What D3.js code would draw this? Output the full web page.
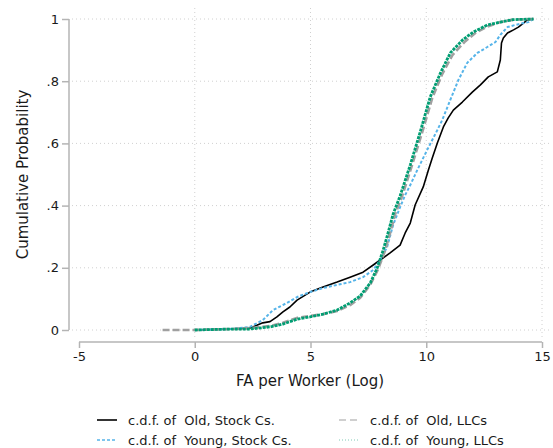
<!DOCTYPE html>
<html><head><meta charset="utf-8">
<script src="https://cdn.jsdelivr.net/npm/d3@7"></script>
<style>body{margin:0;background:#fff;} text{font-family:"DejaVu Sans",Verdana,sans-serif;fill:#1a1a1a;}</style>
</head><body>
<svg id="c" width="553" height="448"></svg>
<script>
const xTicks = [-5, 0, 5, 10, 15];
const xTickLabels = ["-5", "0", "5", "10", "15"];
const yTicks = [0, 0.2, 0.4, 0.6, 0.8, 1];
const yTickLabels = ["0", ".2", ".4", ".6", ".8", "1"];
const seriesNames = ["c.d.f. of  Old, Stock Cs.", "c.d.f. of  Young, Stock Cs.", "c.d.f. of  Old, LLCs", "c.d.f. of  Young, LLCs"];

const oldStock = [[0,0],[1.52,0.003],[2.38,0.006],[2.94,0.023],[3.25,0.027],[3.55,0.042],[3.81,0.058],[4.11,0.074],[4.42,0.096],[4.98,0.122],[5.54,0.138],[6.15,0.154],[6.71,0.170],[7.27,0.186],[7.71,0.209],[8.01,0.225],[8.44,0.248],[8.87,0.273],[9.09,0.312],[9.31,0.344],[9.52,0.402],[9.87,0.460],[10.09,0.514],[10.26,0.553],[10.48,0.601],[10.74,0.653],[10.95,0.682],[11.17,0.707],[11.56,0.733],[11.99,0.765],[12.34,0.788],[12.68,0.814],[13.07,0.830],[13.20,0.868],[13.25,0.923],[13.33,0.939],[13.51,0.955],[13.77,0.965],[13.98,0.974],[14.20,0.987],[14.37,0.997],[14.63,1.0]];
const youngStock = [[0,0],[1.52,0.003],[2.38,0.010],[2.94,0.032],[3.38,0.064],[3.98,0.087],[4.42,0.106],[4.98,0.122],[5.54,0.135],[6.15,0.145],[6.71,0.154],[7.27,0.170],[7.71,0.193],[8.01,0.225],[8.31,0.267],[8.57,0.338],[8.87,0.395],[9.09,0.434],[9.31,0.466],[9.61,0.514],[10.04,0.579],[10.48,0.643],[10.69,0.675],[11.04,0.740],[11.39,0.804],[11.77,0.859],[12.21,0.891],[12.64,0.910],[12.99,0.926],[13.20,0.949],[13.51,0.974],[13.85,0.981],[14.20,0.987],[14.42,0.990],[14.63,1.0]];
const oldLLC = [[-1.39,0],[0,0],[1.52,0.003],[2.38,0.006],[3.25,0.013],[3.81,0.023],[4.42,0.039],[4.98,0.045],[5.54,0.051],[6.15,0.061],[6.71,0.080],[7.14,0.103],[7.58,0.145],[7.92,0.196],[8.23,0.257],[8.44,0.312],[8.66,0.373],[8.96,0.431],[9.39,0.531],[9.83,0.637],[10.26,0.746],[10.69,0.823],[11.13,0.884],[11.65,0.926],[12.12,0.955],[12.68,0.977],[13.20,0.990],[13.77,0.998],[14.63,1.0]];
const youngLLC = [[0,0],[1.52,0.003],[2.38,0.003],[3.25,0.010],[3.81,0.019],[4.42,0.035],[4.98,0.042],[5.54,0.051],[6.15,0.064],[6.71,0.087],[7.14,0.109],[7.58,0.151],[7.88,0.199],[8.14,0.257],[8.35,0.312],[8.57,0.373],[8.87,0.431],[9.31,0.531],[9.74,0.637],[10.17,0.749],[10.61,0.826],[11.04,0.891],[11.56,0.932],[12.03,0.958],[12.64,0.981],[13.20,0.990],[13.77,0.998],[14.63,1.0]];

const svg = d3.select("#c");
const x = d3.scaleLinear().domain([-5, 15]).range([79, 542]);
const y = d3.scaleLinear().domain([0, 1]).range([330, 19]);

// gridlines
const grid = svg.append("g").attr("stroke", "#d0d0d0").attr("stroke-width", 1).attr("stroke-dasharray", "1,3");
grid.selectAll("line.h").data(yTicks).join("line")
  .attr("x1", 72).attr("x2", 552).attr("y1", d => y(d)).attr("y2", d => y(d));
grid.selectAll("line.v").data(xTicks.filter(d => d > -5)).join("line")
  .attr("y1", 8).attr("y2", 338).attr("x1", d => x(d)).attr("x2", d => x(d));

// axes
const yAxis = d3.axisLeft(y).tickValues(yTicks).tickSize(7).tickPadding(3)
  .tickFormat((d, i) => yTickLabels[i]);
const gy = svg.append("g").attr("transform", "translate(69,0)").call(yAxis);
const xAxis = d3.axisBottom(x).tickValues(xTicks).tickSize(6).tickPadding(4)
  .tickFormat((d, i) => xTickLabels[i]);
const gx = svg.append("g").attr("transform", "translate(0,342)").call(xAxis);
[gx, gy].forEach(g => {
  g.select(".domain").attr("stroke", "#b4b4b4").attr("stroke-width", 1.5);
  g.selectAll(".tick line").attr("stroke", "#b4b4b4").attr("stroke-width", 1.5);
  g.selectAll(".tick text").attr("font-size", 13).attr("fill", "#1a1a1a")
    .style("font-family", '"DejaVu Sans",Verdana,sans-serif');
});
gy.select(".domain").attr("d", "M0," + y(0) + "V" + y(1));
gx.select(".domain").attr("d", "M" + x(-5) + ",0H" + x(15));

svg.append("text").attr("x", 310).attr("y", 386).attr("text-anchor", "middle")
  .attr("font-size", 15).text("FA per Worker (Log)");
svg.append("text").attr("transform", "translate(28,174.5) rotate(-90)").attr("text-anchor", "middle")
  .attr("font-size", 15).text("Cumulative Probability");

const line = d3.line().x(d => x(d[0])).y(d => y(d[1]));
const styles = [
  {data: oldStock, color: "#000000", w: 1.6, dash: null, lw: 1.6, ldash: null},
  {data: youngStock, color: "#56B4E9", w: 2, dash: "3,2", lw: 1.4, ldash: "3,2"},
  {data: oldLLC, color: "#a0a0a0", w: 2.6, dash: "7,3", lw: 1.2, ldash: "7,4"},
  {data: youngLLC, color: "#009E73", w: 2.8, dash: "3,1", lw: 1, ldash: "1,2"}
];
styles.forEach(s => {
  svg.append("path").datum(s.data).attr("d", line).attr("fill", "none")
    .attr("stroke", s.color).attr("stroke-width", s.w)
    .attr("stroke-dasharray", s.dash).attr("stroke-linejoin", "round");
});

// legend
const legPos = [[97, 420], [97, 440], [339, 420], [339, 440]];
seriesNames.forEach((name, i) => {
  const s = styles[i];
  const [lx, ly] = legPos[i];
  svg.append("line").attr("x1", lx).attr("x2", lx + 20).attr("y1", ly).attr("y2", ly)
    .attr("stroke", i === 3 ? "#7fcab5" : s.color).attr("stroke-width", s.lw).attr("stroke-dasharray", s.ldash);
  svg.append("text").attr("x", lx + 31).attr("y", ly + 4.5).attr("font-size", 13)
    .attr("xml:space", "preserve").style("white-space", "pre").text(name);
});
</script>
</body></html>
